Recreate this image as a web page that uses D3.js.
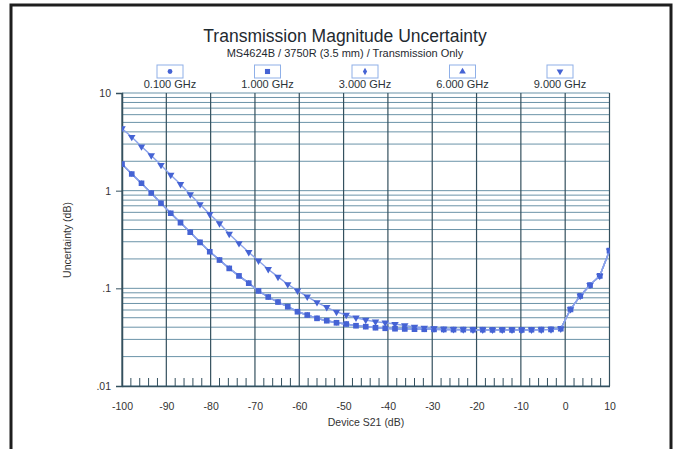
<!DOCTYPE html>
<html>
<head>
<meta charset="utf-8">
<script src="https://cdn.jsdelivr.net/npm/d3@7"></script>
<style>
  html, body { margin: 0; padding: 0; background: #fff; }
  svg text { font-family: "Liberation Sans", Arial, sans-serif; }
</style>
</head>
<body>
<div id="chart"></div>
<script>
// 扫描点 (Device S21, dB)
const sweepDb = [-100, -97.8, -95.6, -93.4, -91.2, -89, -86.8, -84.6, -82.4, -80.2,
  -78, -75.8, -73.6, -71.4, -69.2, -67, -64.8, -62.6, -60.4, -58.2,
  -56, -53.8, -51.6, -49.4, -47.2, -45, -42.8, -40.6, -38.4, -36.2,
  -34, -31.8, -29.6, -27.4, -25.2, -23, -20.8, -18.6, -16.4, -14.2,
  -12, -9.8, -7.6, -5.4, -3.2, -1, 1.2, 3.4, 5.6, 7.8, 10];

// 低频段曲线 (0.1 / 1 / 3 / 6 GHz 基本重合)
const lowUnc = [1.87, 1.48, 1.19, 0.946, 0.743, 0.587, 0.47, 0.375, 0.296, 0.237,
  0.195, 0.16, 0.134, 0.113, 0.094, 0.0815, 0.0724, 0.0648, 0.0576, 0.0533,
  0.0493, 0.0466, 0.0444, 0.0431, 0.0414, 0.0405, 0.0395, 0.039, 0.0386, 0.0384,
  0.0382, 0.0381, 0.038, 0.0379, 0.0378, 0.0378, 0.0377, 0.0377, 0.0376, 0.0376,
  0.0376, 0.0376, 0.0377, 0.0378, 0.038, 0.0386, 0.061, 0.0836, 0.108, 0.134, 0.243];

// 9 GHz 曲线
const highUnc = [4.33, 3.54, 2.83, 2.29, 1.83, 1.45, 1.166, 0.914, 0.725, 0.574,
  0.463, 0.36, 0.289, 0.234, 0.192, 0.157, 0.131, 0.11, 0.0946, 0.0821,
  0.0719, 0.064, 0.0573, 0.0533, 0.05, 0.0474, 0.0455, 0.0444, 0.0431, 0.0417,
  0.0402, 0.0393, 0.0388, 0.0384, 0.0381, 0.0379, 0.0378, 0.0377, 0.0376, 0.0376,
  0.0376, 0.0376, 0.0377, 0.0378, 0.038, 0.0386, 0.061, 0.0836, 0.108, 0.134, 0.243];

const freqLabels = ['0.100 GHz', '1.000 GHz', '3.000 GHz', '6.000 GHz', '9.000 GHz'];
const freqValues = [lowUnc, lowUnc, lowUnc, lowUnc, highUnc];
const freqMarkers = ['circle', 'square', 'diamond', 'triangle', 'triangleDown'];

const xTickValues = [-100, -90, -80, -70, -60, -50, -40, -30, -20, -10, 0, 10];
const yTickValues = [0.01, 0.1, 1, 10];
const yTickLabels = ['.01', '.1', '1', '10'];

const width = 683, height = 449;
const plot = { left: 122, right: 609.5, top: 93, bottom: 386 };
const markColor = '#4563d4';
const lineColor = '#8aa2ea';

const svg = d3.select('#chart').append('svg').attr('width', width).attr('height', height);

const x = d3.scaleLinear().domain([-100, 10]).range([plot.left, plot.right]);
const y = d3.scaleLog().domain([0.01, 10]).range([plot.bottom, plot.top]);

// 外框
svg.append('rect').attr('x', 11).attr('y', 5).attr('width', 660).attr('height', 480)
  .attr('fill', 'none').attr('stroke', '#1e1e1e').attr('stroke-width', 3);

// 标题
svg.append('text').attr('x', 345).attr('y', 42).attr('text-anchor', 'middle')
  .attr('font-size', '17.5px').attr('fill', '#1f2a30').text('Transmission Magnitude Uncertainty');
svg.append('text').attr('x', 345).attr('y', 57).attr('text-anchor', 'middle')
  .attr('font-size', '11px').attr('fill', '#1f2a30').text('MS4624B / 3750R (3.5 mm) / Transmission Only');

// 网格
const grid = svg.append('g');
grid.selectAll('.hLine').data(y.ticks()).enter().append('line')
  .attr('class', 'hLine')
  .attr('x1', plot.left).attr('x2', plot.right)
  .attr('y1', d => y(d)).attr('y2', d => y(d))
  .attr('stroke', '#6b93a8').attr('stroke-width', 1);
grid.selectAll('.vLine').data(x.ticks(11)).enter().append('line')
  .attr('class', 'vLine')
  .attr('x1', d => x(d)).attr('x2', d => x(d))
  .attr('y1', plot.top).attr('y2', plot.bottom)
  .attr('stroke', '#34505e').attr('stroke-width', 1.2);

// 底部小刻度
grid.selectAll('.minorTick').data(x.ticks(55).filter(d => d % 10 !== 0)).enter().append('line')
  .attr('class', 'minorTick')
  .attr('x1', d => x(d)).attr('x2', d => x(d))
  .attr('y1', plot.bottom - 8).attr('y2', plot.bottom)
  .attr('stroke', '#34505e').attr('stroke-width', 1);

// 坐标轴
const yAxis = svg.append('g').attr('transform', `translate(${plot.left},0)`)
  .call(d3.axisLeft(y).tickValues(yTickValues).tickSize(6).tickPadding(5)
    .tickFormat((d, i) => yTickLabels[i]));
yAxis.select('.domain').attr('stroke', '#34505e').attr('stroke-width', 1.5);
yAxis.selectAll('.tick line').attr('stroke', '#34505e');
yAxis.selectAll('.tick text').attr('font-size', '10.5px').attr('fill', '#333')
  .attr('font-family', '"Liberation Sans", Arial, sans-serif');

// 横轴标签用普通连字符
const xAxis = svg.append('g').attr('transform', `translate(0,${plot.bottom})`)
  .call(d3.axisBottom(x).tickValues(xTickValues).tickSize(0).tickPadding(17)
    .tickFormat(d => String(d)));
xAxis.select('.domain').attr('stroke', '#34505e').attr('stroke-width', 1.5);
xAxis.selectAll('.tick text').attr('font-size', '10.5px').attr('fill', '#333')
  .attr('font-family', '"Liberation Sans", Arial, sans-serif');

svg.append('text').attr('x', 366).attr('y', 426).attr('text-anchor', 'middle')
  .attr('font-size', '10.5px').attr('fill', '#333').text('Device S21 (dB)');
svg.append('text').attr('transform', 'translate(71,240) rotate(-90)').attr('text-anchor', 'middle')
  .attr('font-size', '10.5px').attr('fill', '#333').text('Uncertainty (dB)');

// 标记形状
function markerPath(type, size) {
  if (type === 'circle') return d3.symbol(d3.symbolCircle, size * 0.7)();
  if (type === 'square') return d3.symbol(d3.symbolSquare, size)();
  if (type === 'diamond') return d3.symbol(d3.symbolDiamond, size * 0.6)();
  return d3.symbol(d3.symbolTriangle, size * 0.75)();
}
function markerRotate(type) {
  return type === 'triangleDown' ? ' rotate(180)' : '';
}
// 图中被方块遮住的标记缩小一些
const plotMarkSize = [18, 32, 16, 16, 32];

// 曲线 (裁剪到绘图区)
svg.append('clipPath').attr('id', 'plotClip').append('rect')
  .attr('x', plot.left).attr('y', plot.top)
  .attr('width', plot.right - plot.left).attr('height', plot.bottom - plot.top);

const line = d3.line().x(d => x(d[0])).y(d => y(d[1]));
const drawOrder = [0, 2, 3, 1, 4];
const seriesG = svg.append('g').attr('clip-path', 'url(#plotClip)');

drawOrder.forEach(function (k) {
  const pts = sweepDb.map((v, i) => [v, freqValues[k][i]]);
  const g = seriesG.append('g').attr('class', 'series' + k);
  g.append('path').datum(pts)
    .attr('fill', 'none').attr('stroke', lineColor).attr('stroke-width', 1.4)
    .attr('d', line);
  g.selectAll('path.mark').data(pts).enter().append('path')
    .attr('class', 'mark')
    .attr('transform', d => `translate(${x(d[0])},${y(d[1])})${markerRotate(freqMarkers[k])}`)
    .attr('d', markerPath(freqMarkers[k], plotMarkSize[k]))
    .attr('fill', markColor);
});

// 图例
const legendX = d3.scalePoint().domain(freqLabels).range([170, 560]);
const legendG = svg.selectAll('.legendItem').data(freqLabels).enter().append('g')
  .attr('class', 'legendItem')
  .attr('transform', d => `translate(${legendX(d)},0)`);
legendG.append('rect').attr('x', -13).attr('y', 65).attr('width', 26).attr('height', 13)
  .attr('fill', '#fff').attr('stroke', '#8fb0e8').attr('stroke-width', 1);
legendG.append('path')
  .attr('transform', (d, i) => `translate(0,71.5)${markerRotate(freqMarkers[i])}`)
  .attr('d', (d, i) => markerPath(freqMarkers[i], 26))
  .attr('fill', markColor);
legendG.append('text').attr('y', 88).attr('text-anchor', 'middle')
  .attr('font-size', '11px').attr('fill', '#2a3338').text(d => d);
</script>
</body>
</html>
